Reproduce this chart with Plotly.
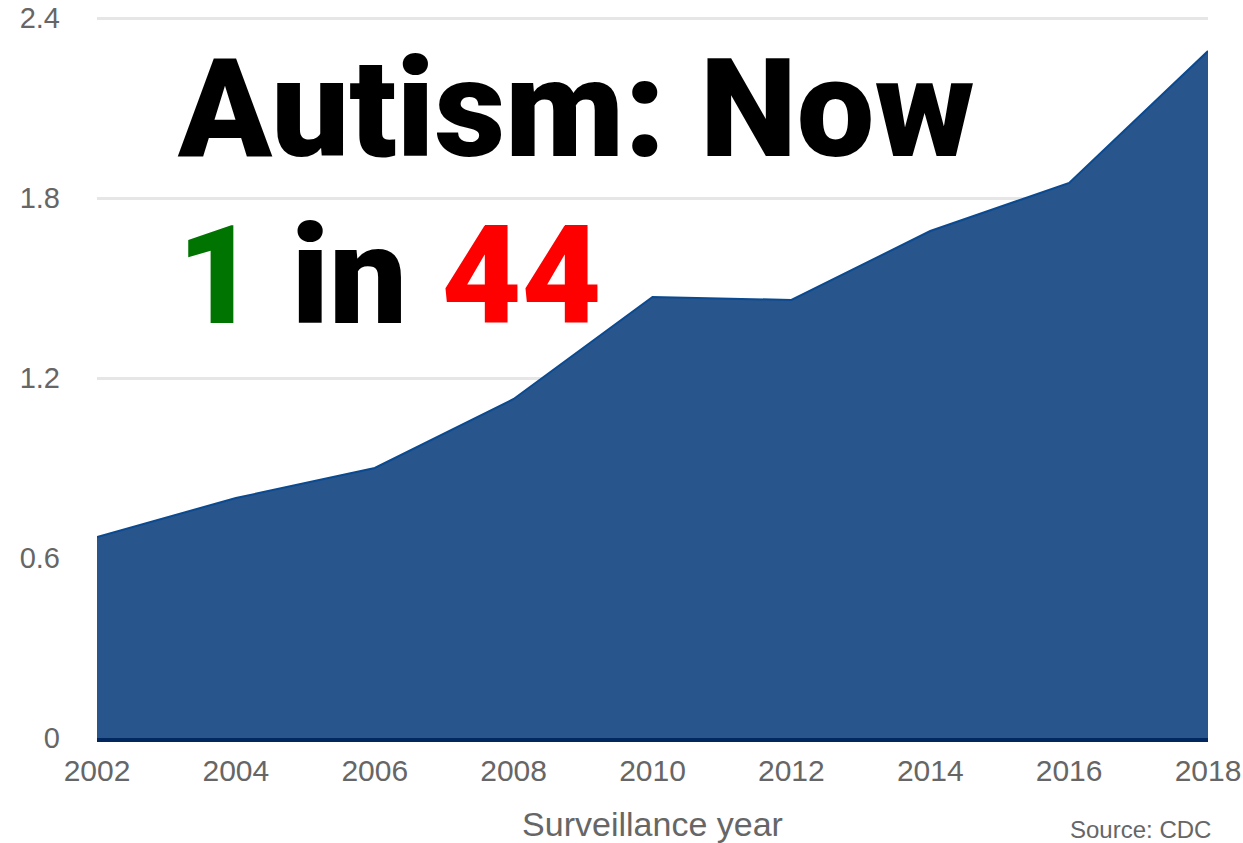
import plotly.graph_objects as go

years = [2002, 2004, 2006, 2008, 2010, 2012, 2014, 2016, 2018]
prevalence = [0.67, 0.80, 0.90, 1.13, 1.47, 1.46, 1.69, 1.85, 2.29]
y_ticks = [0, 0.6, 1.2, 1.8, 2.4]
y_tick_text = ["0", "0.6", "1.2", "1.8", "2.4"]
x_ticks = [2002, 2004, 2006, 2008, 2010, 2012, 2014, 2016, 2018]
y_max = 2.42

fig = go.Figure()
fig.add_trace(go.Scatter(
    x=years, y=prevalence, mode="lines", fill="tozeroy",
    fillcolor="#28558C", line=dict(color="#0B4A90", width=2),
    hoverinfo="skip",
))

title_font = "Roboto, Liberation Sans, Arial, sans-serif"
fig.add_annotation(
    text="Autism: Now", xref="paper", yref="paper",
    x=0.07, y=0.867, xanchor="left", yanchor="middle", showarrow=False,
    font=dict(family=title_font, size=138, color="#000000", weight=900),
)
fig.add_annotation(
    text="<span style='color:#007400'>1</span> in <span style='color:#FF0000'>44</span>",
    xref="paper", yref="paper",
    x=0.07, y=0.636, xanchor="left", yanchor="middle", showarrow=False,
    font=dict(family=title_font, size=138, color="#000000", weight=900),
)
fig.add_annotation(
    text="Source: CDC", xref="paper", yref="paper",
    x=1.0045, y=-0.126, xanchor="right", yanchor="middle", showarrow=False,
    font=dict(family="Liberation Sans, Arial, sans-serif", size=24, color="#666666"),
)

fig.update_layout(
    width=1243, height=843,
    margin=dict(l=97, r=35, t=12, b=105),
    paper_bgcolor="white", plot_bgcolor="white",
    showlegend=False, hovermode=False,
    xaxis=dict(
        range=[2002, 2018], tickvals=x_ticks, ticktext=[str(v) for v in x_ticks],
        showgrid=False, zeroline=False, showline=True, linecolor="#00285F", linewidth=4,
        ticks="", ticklabelstandoff=3, automargin=False, ticklabeloverflow="allow",
        tickfont=dict(family="Liberation Sans, Arial, sans-serif", size=30, color="#666666"),
        title=dict(text="Surveillance year", standoff=31,
                   font=dict(family="Liberation Sans, Arial, sans-serif", size=34, color="#666666")),
    ),
    yaxis=dict(
        range=[0, y_max], tickvals=y_ticks, ticktext=y_tick_text,
        showgrid=True, gridcolor="#E6E6E6", gridwidth=3, zeroline=False, showline=False,
        ticks="", ticklabelstandoff=36, automargin=False, ticklabeloverflow="allow",
        tickfont=dict(family="Liberation Sans, Arial, sans-serif", size=29, color="#666666"),
    ),
)

fig.write_html(
    "out.html",
    config={"displayModeBar": False, "staticPlot": True},
    post_script="document.body.style.margin='0';",
)
